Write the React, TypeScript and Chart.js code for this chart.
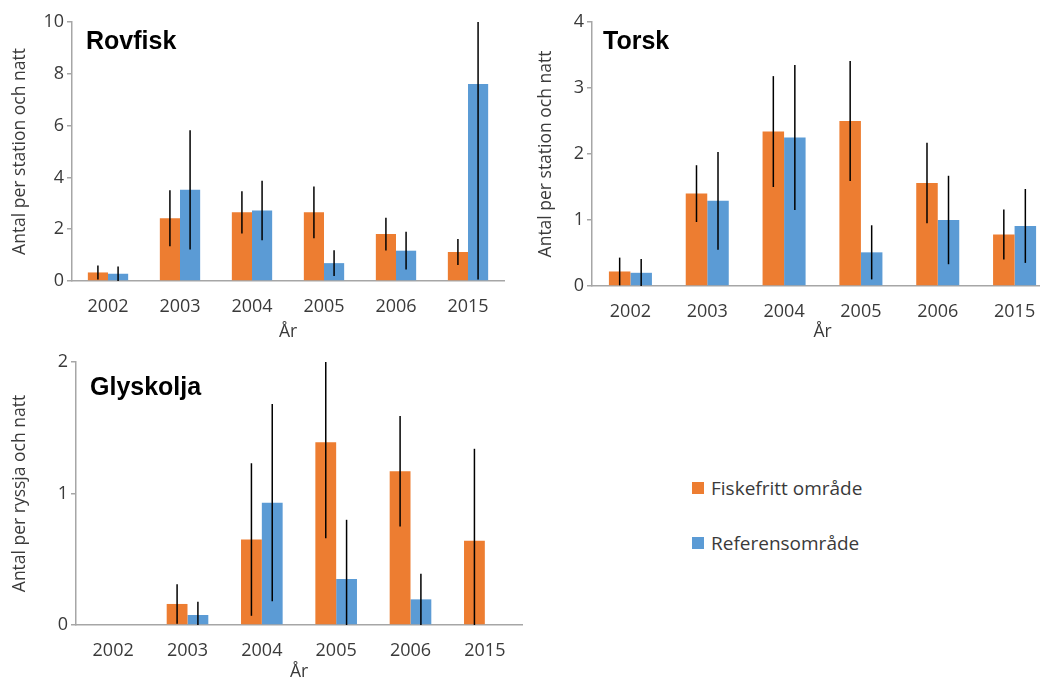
import React, { useEffect, useRef } from "react";
import { Chart, registerables } from "chart.js";

Chart.register(...registerables);

// ---------- data ----------
const years = ["2002", "2003", "2004", "2005", "2006", "2015"];
const seriesNames = ["Fiskefritt område", "Referensområde"];
const seriesColors = ["#ED7D31", "#5B9BD5"];
const xTitle = "År";

const rovfiskTitle = "Rovfisk";
const rovfiskYTitle = "Antal per station och natt";
const rovfiskTicks = [0, 2, 4, 6, 8, 10];
const rovfiskFiskefritt = [0.33, 2.42, 2.65, 2.65, 1.81, 1.12];
const rovfiskFiskefrittErr = [0.27, 1.08, 0.82, 1.0, 0.63, 0.5];
const rovfiskReferens = [0.28, 3.52, 2.72, 0.69, 1.17, 7.61];
const rovfiskReferensErr = [0.28, 2.3, 1.15, 0.5, 0.73, 7.55];

const torskTitle = "Torsk";
const torskYTitle = "Antal per station och natt";
const torskTicks = [0, 1, 2, 3, 4];
const torskFiskefritt = [0.22, 1.4, 2.34, 2.5, 1.56, 0.78];
const torskFiskefrittErr = [0.21, 0.43, 0.84, 0.91, 0.61, 0.38];
const torskReferens = [0.2, 1.29, 2.25, 0.51, 1.0, 0.91];
const torskReferensErr = [0.21, 0.74, 1.1, 0.41, 0.67, 0.56];

const glyskoljaTitle = "Glyskolja";
const glyskoljaYTitle = "Antal per ryssja och natt";
const glyskoljaTicks = [0, 1, 2];
const glyskoljaFiskefritt = [null, 0.16, 0.65, 1.39, 1.17, 0.64];
const glyskoljaFiskefrittErr = [null, 0.15, 0.58, 0.73, 0.42, 0.7];
const glyskoljaReferens = [null, 0.076, 0.93, 0.35, 0.195, null];
const glyskoljaReferensErr = [null, 0.1, 0.75, 0.45, 0.195, null];

// ---------- styling ----------
const FONT = '"Open Sans", "Noto Sans", sans-serif';
const TEXT_COLOR = "#3a3a3a";
const AXIS_COLOR = "#a6a6a6";

const errorBarPlugin = {
  id: "errorBars",
  afterDatasetsDraw(chart: any) {
    const { ctx, chartArea, scales } = chart;
    const yScale = scales.y;
    ctx.save();
    ctx.beginPath();
    ctx.rect(chartArea.left, chartArea.top, chartArea.right - chartArea.left, chartArea.bottom - chartArea.top);
    ctx.clip();
    ctx.strokeStyle = "#000000";
    ctx.lineWidth = 1.5;
    chart.data.datasets.forEach((ds: any, i: number) => {
      const meta = chart.getDatasetMeta(i);
      const errs = ds.errors || [];
      meta.data.forEach((bar: any, j: number) => {
        const v = ds.data[j];
        const e = errs[j];
        if (v == null || e == null) return;
        const yTop = yScale.getPixelForValue(v + e);
        const yBot = yScale.getPixelForValue(v - e);
        ctx.beginPath();
        ctx.moveTo(bar.x, yTop);
        ctx.lineTo(bar.x, yBot);
        ctx.stroke();
      });
    });
    ctx.restore();
  },
};

const cornerTitlePlugin = {
  id: "cornerTitle",
  afterDraw(chart: any, _args: any, opts: any) {
    if (!opts || !opts.text) return;
    const { ctx, chartArea } = chart;
    ctx.save();
    ctx.font = 'bold 25px "Liberation Sans", Arial, sans-serif';
    ctx.fillStyle = "#000000";
    ctx.textAlign = "left";
    ctx.textBaseline = "alphabetic";
    ctx.fillText(opts.text, chartArea.left + opts.dx, chartArea.top + opts.dy);
    ctx.restore();
  },
};

type PanelCfg = {
  left: number;
  top: number;
  w: number;
  h: number;
  padTop: number;
  padRight: number;
  yWidth: number;
  xHeight: number;
  yTitlePad: number;
  xTitlePad: number;
  title: string;
  titleDx: number;
  titleDy: number;
  yTitle: string;
  ticks: number[];
  a: (number | null)[];
  aErr: (number | null)[];
  b: (number | null)[];
  bErr: (number | null)[];
};

function BarPanel({ cfg }: { cfg: PanelCfg }) {
  const ref = useRef<HTMLCanvasElement>(null);
  useEffect(() => {
    const tickFont = { family: FONT, size: 18 };
    const chart = new Chart(ref.current as HTMLCanvasElement, {
      type: "bar",
      data: {
        labels: years,
        datasets: [
          {
            label: seriesNames[0],
            data: cfg.a,
            errors: cfg.aErr,
            backgroundColor: seriesColors[0],
            borderWidth: 0,
            categoryPercentage: 0.56,
            barPercentage: 1,
          } as any,
          {
            label: seriesNames[1],
            data: cfg.b,
            errors: cfg.bErr,
            backgroundColor: seriesColors[1],
            borderWidth: 0,
            categoryPercentage: 0.56,
            barPercentage: 1,
          } as any,
        ],
      },
      options: {
        responsive: false,
        animation: false,
        layout: { padding: { left: 0, top: cfg.padTop, right: cfg.padRight, bottom: 0 } },
        plugins: {
          legend: { display: false },
          tooltip: { enabled: false },
          cornerTitle: { text: cfg.title, dx: cfg.titleDx, dy: cfg.titleDy },
        } as any,
        scales: {
          x: {
            grid: { display: false, drawTicks: false },
            border: { display: true, color: AXIS_COLOR, width: 1.5 },
            ticks: { color: TEXT_COLOR, font: tickFont, padding: 15, maxRotation: 0, autoSkip: false },
            title: {
              display: true,
              text: xTitle,
              color: TEXT_COLOR,
              font: { family: FONT, size: 17.5 },
              padding: { top: 0, bottom: cfg.xTitlePad },
            },
            afterFit: (s: any) => {
              s.height = cfg.xHeight;
            },
          },
          y: {
            min: cfg.ticks[0],
            max: cfg.ticks[cfg.ticks.length - 1],
            afterBuildTicks: (s: any) => {
              s.ticks = cfg.ticks.map((v) => ({ value: v }));
            },
            grid: { display: true, drawOnChartArea: false, drawTicks: true, tickLength: 5, color: AXIS_COLOR, lineWidth: 1.5 },
            border: { display: true, color: AXIS_COLOR, width: 1.5 },
            ticks: { color: TEXT_COLOR, font: tickFont, padding: 3 },
            title: {
              display: true,
              text: cfg.yTitle,
              color: TEXT_COLOR,
              font: { family: FONT, size: 17.5 },
              padding: { top: cfg.yTitlePad, bottom: 0 },
            },
            afterFit: (s: any) => {
              s.width = cfg.yWidth;
            },
          },
        },
      } as any,
      plugins: [errorBarPlugin, cornerTitlePlugin],
    });
    return () => chart.destroy();
  }, []);
  return (
    <canvas
      ref={ref}
      width={cfg.w}
      height={cfg.h}
      style={{ position: "absolute", left: cfg.left, top: cfg.top, width: cfg.w, height: cfg.h }}
    />
  );
}

const panels: PanelCfg[] = [
  {
    left: 0, top: 0, w: 520, h: 345, padTop: 22, padRight: 16, yWidth: 72, xHeight: 64,
    yTitlePad: 10, xTitlePad: 2, title: rovfiskTitle, titleDx: 14, titleDy: 27,
    yTitle: rovfiskYTitle, ticks: rovfiskTicks,
    a: rovfiskFiskefritt, aErr: rovfiskFiskefrittErr, b: rovfiskReferens, bErr: rovfiskReferensErr,
  },
  {
    left: 520, top: 0, w: 540, h: 345, padTop: 22, padRight: 7, yWidth: 72, xHeight: 59,
    yTitlePad: 16, xTitlePad: 2, title: torskTitle, titleDx: 11, titleDy: 27,
    yTitle: torskYTitle, ticks: torskTicks,
    a: torskFiskefritt, aErr: torskFiskefrittErr, b: torskReferens, bErr: torskReferensErr,
  },
  {
    left: 0, top: 340, w: 530, h: 350, padTop: 22, padRight: 8, yWidth: 76, xHeight: 65,
    yTitlePad: 10, xTitlePad: 7, title: glyskoljaTitle, titleDx: 14, titleDy: 33,
    yTitle: glyskoljaYTitle, ticks: glyskoljaTicks,
    a: glyskoljaFiskefritt, aErr: glyskoljaFiskefrittErr, b: glyskoljaReferens, bErr: glyskoljaReferensErr,
  },
];

function Legend() {
  return (
    <div style={{ position: "absolute", left: 692, top: 474, fontFamily: FONT, fontSize: 19, color: TEXT_COLOR }}>
      {seriesNames.map((name, i) => (
        <div key={name} style={{ display: "flex", alignItems: "center", height: 28, marginBottom: i === 0 ? 27 : 0 }}>
          <span style={{ display: "inline-block", width: 12, height: 12, background: seriesColors[i], marginRight: 7 }} />
          <span style={{ whiteSpace: "nowrap" }}>{name}</span>
        </div>
      ))}
    </div>
  );
}

export default function App() {
  return (
    <div
      style={{
        position: "fixed",
        left: 0,
        top: 0,
        width: 1040,
        height: 681,
        overflow: "hidden",
        background: "#ffffff",
      }}
    >
      {panels.map((p, i) => (
        <BarPanel key={i} cfg={p} />
      ))}
      <Legend />
    </div>
  );
}
